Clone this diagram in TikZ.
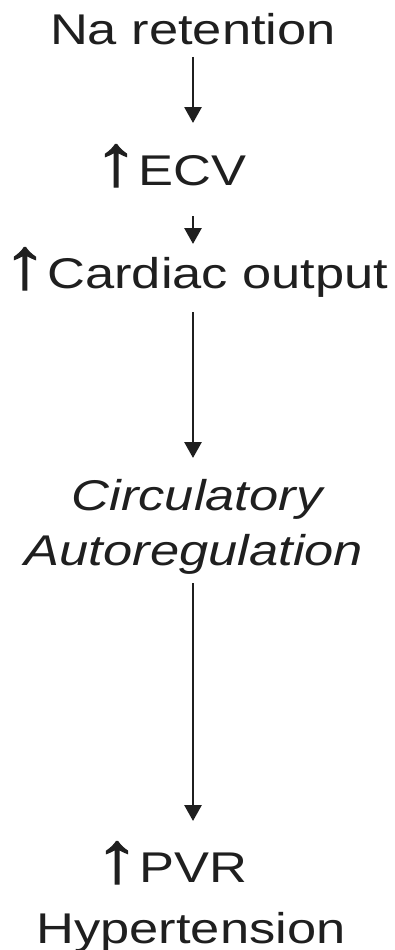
\documentclass[tikz,border=0pt]{standalone}
\usepackage{fontspec}
\setmainfont{Liberation Sans}[FakeStretch=1.22]
\newfontfamily\uparrowfont{Liberation Sans}[FakeStretch=1.25,FakeBold=1.6]
\newcommand{\upar}{{\uparrowfont\fontsize{72}{72}\selectfont ↑}}
\usetikzlibrary{arrows.meta}
\begin{document}
\begin{tikzpicture}[x=1pt,y=-1pt,
  lbl/.style={anchor=base,inner sep=0pt,font=\fontsize{43}{50}\selectfont,text=black!88},
  arr/.style={draw=black!88,line width=2.8pt,-{Triangle[width=17pt,length=16pt]}}]
\useasboundingbox (0,0) rectangle (394,950);
\node[lbl] (na) at (193,45) {Na retention};
\node[lbl] (ecv) at (170,185) {\upar ECV};
\node[lbl] (co) at (195.5,288) {\upar Cardiac output};
\node[lbl] (circ) at (197,510) {\itshape Circulatory};
\node[lbl] (auto) at (194,565) {\itshape Autoregulation};
\node[lbl] (pvr) at (171,882) {\upar PVR};
\node[lbl] (hyp) at (191,943) {Hypertension};
\coordinate (a1s) at (193,57);
\coordinate (a1e) at (193,123);
\coordinate (a2s) at (193,216);
\coordinate (a2e) at (193,244);
\coordinate (a3s) at (193,312);
\coordinate (a3e) at (193,458);
\coordinate (a4s) at (193,583);
\coordinate (a4e) at (193,821);
\draw[arr] (a1s) -- (a1e);
\draw[arr] (a2s) -- (a2e);
\draw[arr] (a3s) -- (a3e);
\draw[arr] (a4s) -- (a4e);
\end{tikzpicture}
\end{document}
